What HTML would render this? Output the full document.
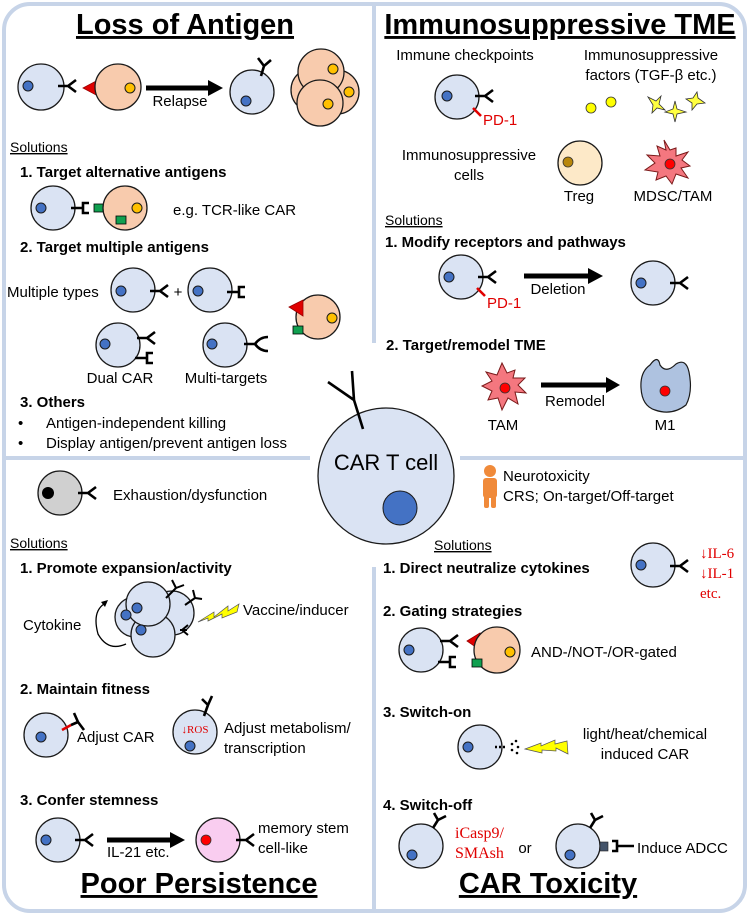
<!DOCTYPE html>
<html><head><meta charset="utf-8"><style>
html,body{margin:0;padding:0;background:#fff}
svg{display:block}
text{font-family:"Liberation Sans",sans-serif;fill:#000}
.b{font-weight:bold;font-size:15px}
.t{font-size:15px}
.h{font-weight:bold;font-size:29px;text-decoration:underline}
.r{fill:#e00000;font-family:"Liberation Serif",serif}
.c{fill:#dae3f3;stroke:#1a1a1a;stroke-width:1.3}
.n{fill:#4472c4;stroke:#1a1a1a;stroke-width:1}
.tu{fill:#f8cbad;stroke:#1a1a1a;stroke-width:1.3}
.y{fill:#ffc000;stroke:#1a1a1a;stroke-width:1}
.k{stroke:#000;stroke-width:2.6;fill:none}
</style></head><body>
<svg width="749" height="915" viewBox="0 0 749 915" xmlns="http://www.w3.org/2000/svg">
<defs>
<g id="F"><path class="k" d="M0,0 L11,0 M10,0 L18,-6 M10,0 L18,6"/></g>
<g id="B"><path class="k" d="M0,0 L11,0 M18,-5 L12,-5 L12,5 L18,5"/></g>
<g id="W"><path class="k" d="M0,0 L12,0 M11,0 Q16,-7 24,-7 M11,0 Q16,7 24,7"/></g>
</defs>
<!-- frame -->
<rect x="4" y="4" width="741" height="907" rx="26" fill="none" stroke="#c7d4e8" stroke-width="4"/>
<line x1="374" y1="4" x2="374" y2="343" stroke="#c7d4e8" stroke-width="4"/>
<line x1="374" y1="567" x2="374" y2="911" stroke="#c7d4e8" stroke-width="4"/>
<line x1="4" y1="458" x2="310" y2="458" stroke="#c7d4e8" stroke-width="4"/>
<line x1="460" y1="458" x2="745" y2="458" stroke="#c7d4e8" stroke-width="4"/>

<!-- ===== Loss of Antigen ===== -->
<text x="185" y="34" text-anchor="middle" class="h">Loss of Antigen</text>
<circle cx="41" cy="87" r="23" class="c"/><circle cx="28" cy="86" r="5" class="n"/>
<use href="#F" x="58" y="86"/>
<polygon points="83,88 98,80 98,96" fill="#e00000" stroke="#900" stroke-width="0.8"/>
<circle cx="118" cy="87" r="23" class="tu"/><circle cx="130" cy="88" r="5" class="y"/>
<line x1="146" y1="88" x2="210" y2="88" stroke="#000" stroke-width="5"/>
<polygon points="208,80 223,88 208,96" fill="#000"/>
<text x="180" y="106" text-anchor="middle" class="t">Relapse</text>
<circle cx="252" cy="92" r="22" class="c"/><circle cx="246" cy="101" r="5" class="n"/>
<path class="k" d="M261,76 L264,66 M264,66 L258,58 M264,66 L271,60"/>
<circle cx="313" cy="90" r="22" class="tu"/><circle cx="337" cy="92" r="22" class="tu"/>
<circle cx="321" cy="72" r="23" class="tu"/><circle cx="320" cy="103" r="23" class="tu"/>
<circle cx="333" cy="69" r="5" class="y"/><circle cx="349" cy="92" r="5" class="y"/><circle cx="328" cy="104" r="5" class="y"/>

<text x="10" y="152" style="font-size:14px;text-decoration:underline">Solutions</text>
<text x="20" y="177" class="b">1. Target alternative antigens</text>
<circle cx="53" cy="208" r="22" class="c"/><circle cx="41" cy="208" r="5" class="n"/>
<use href="#B" x="71" y="208"/>
<rect x="94" y="204" width="10" height="8" fill="#10a050" stroke="#000" stroke-width="0.8"/>
<circle cx="125" cy="208" r="22" class="tu"/><circle cx="137" cy="208" r="5" class="y"/>
<rect x="116" y="216" width="10" height="8" fill="#10a050" stroke="#000" stroke-width="0.8"/>
<text x="173" y="215" class="t">e.g. TCR-like CAR</text>
<text x="20" y="252" class="b">2. Target multiple antigens</text>
<text x="7" y="297" class="t">Multiple types</text>
<circle cx="133" cy="290" r="22" class="c"/><circle cx="121" cy="291" r="5" class="n"/>
<use href="#F" x="150" y="291"/>
<text x="178" y="297" text-anchor="middle" class="t">+</text>
<circle cx="210" cy="290" r="22" class="c"/><circle cx="198" cy="291" r="5" class="n"/>
<use href="#B" x="227" y="292"/>
<circle cx="318" cy="317" r="22" class="tu"/><circle cx="332" cy="318" r="5" class="y"/>
<polygon points="289,307 303,300 303,316" fill="#e00000" stroke="#900" stroke-width="0.8"/>
<rect x="293" y="326" width="10" height="8" fill="#10a050" stroke="#000" stroke-width="0.8"/>
<circle cx="118" cy="345" r="22" class="c"/><circle cx="105" cy="344" r="5" class="n"/>
<use href="#F" x="137" y="338"/><use href="#B" x="135" y="358"/>
<text x="120" y="383" text-anchor="middle" class="t">Dual CAR</text>
<circle cx="225" cy="345" r="22" class="c"/><circle cx="212" cy="344" r="5" class="n"/>
<use href="#W" x="244" y="344"/>
<text x="226" y="383" text-anchor="middle" class="t">Multi-targets</text>
<text x="20" y="407" class="b">3. Others</text>
<text x="18" y="428" class="t">•</text><text x="46" y="428" class="t">Antigen-independent killing</text>
<text x="18" y="448" class="t">•</text><text x="46" y="448" class="t">Display antigen/prevent antigen loss</text>

<!-- ===== Immunosuppressive TME ===== -->
<text x="560" y="34" text-anchor="middle" class="h">Immunosuppressive TME</text>
<text x="465" y="60" text-anchor="middle" class="t">Immune checkpoints</text>
<text x="651" y="60" text-anchor="middle" class="t">Immunosuppressive</text>
<text x="651" y="80" text-anchor="middle" class="t">factors (TGF-β etc.)</text>
<circle cx="457" cy="97" r="22" class="c"/><circle cx="447" cy="96" r="5" class="n"/>
<use href="#F" x="475" y="96"/>
<line x1="473" y1="108" x2="481" y2="116" stroke="#e00000" stroke-width="2.6"/>
<text x="483" y="125" class="t" style="fill:#e00000">PD-1</text>
<circle cx="591" cy="108" r="5" fill="#ffff00" stroke="#333" stroke-width="0.8"/>
<circle cx="611" cy="102" r="5" fill="#ffff00" stroke="#333" stroke-width="0.8"/>
<g fill="#ffff40" stroke="#333" stroke-width="0.8">
<polygon points="648,97 656,101 661,96 659,104 665,110 657,108 652,113 653,105"/>
<polygon points="675,101 677,109 686,112 677,114 675,122 673,114 665,112 673,109"/>
<polygon points="697,92 698,98 705,103 697,104 692,110 692,103 686,99 693,98"/>
</g>
<text x="469" y="160" text-anchor="middle" class="t">Immunosuppressive</text>
<text x="469" y="180" text-anchor="middle" class="t">cells</text>
<circle cx="580" cy="163" r="22" fill="#fde9c8" stroke="#1a1a1a" stroke-width="1.3"/>
<circle cx="568" cy="162" r="5" fill="#b8860b" stroke="#333" stroke-width="0.8"/>
<text x="579" y="201" text-anchor="middle" class="t">Treg</text>
<path d="M664,140 L670,150 L676,148 L676,156 L688,152 L682,160 L690,166 L681,168 L688,178 L676,174 L672,184 L666,176 L656,180 L658,172 L645,170 L655,163 L647,155 L660,156 L657,146 L666,150 Z" fill="#f4777f" stroke="#7a1a1a" stroke-width="1"/>
<circle cx="670" cy="164" r="5" fill="#ff0000" stroke="#333" stroke-width="0.8"/>
<text x="673" y="201" text-anchor="middle" class="t">MDSC/TAM</text>
<text x="385" y="225" style="font-size:14px;text-decoration:underline">Solutions</text>
<text x="385" y="247" class="b">1. Modify receptors and pathways</text>
<circle cx="461" cy="277" r="22" class="c"/><circle cx="449" cy="277" r="5" class="n"/>
<use href="#F" x="478" y="277"/>
<line x1="477" y1="288" x2="485" y2="296" stroke="#e00000" stroke-width="2.6"/>
<text x="487" y="308" class="t" style="fill:#e00000">PD-1</text>
<line x1="524" y1="276" x2="590" y2="276" stroke="#000" stroke-width="5"/>
<polygon points="588,268 603,276 588,284" fill="#000"/>
<text x="558" y="294" text-anchor="middle" class="t">Deletion</text>
<circle cx="653" cy="283" r="22" class="c"/><circle cx="641" cy="283" r="5" class="n"/>
<use href="#F" x="670" y="283"/>
<text x="386" y="350" class="b">2. Target/remodel TME</text>
<path d="M502,363 L507,373 L515,370 L513,378 L525,378 L518,385 L526,393 L515,392 L518,404 L508,398 L502,410 L498,398 L488,400 L492,391 L482,386 L492,381 L486,372 L497,375 Z" fill="#f4777f" stroke="#7a1a1a" stroke-width="1"/>
<circle cx="505" cy="388" r="5" fill="#ff0000" stroke="#333" stroke-width="0.8"/>
<text x="503" y="430" text-anchor="middle" class="t">TAM</text>
<line x1="541" y1="385" x2="608" y2="385" stroke="#000" stroke-width="5"/>
<polygon points="606,377 620,385 606,393" fill="#000"/>
<text x="575" y="406" text-anchor="middle" class="t">Remodel</text>
<path d="M650,365 Q658,354 660,365 Q666,374 676,364 Q686,358 689,372 Q693,392 686,405 Q672,416 655,410 Q642,406 641,388 Q640,372 650,365 Z" fill="#aec2e0" stroke="#1a1a1a" stroke-width="1.2"/>
<circle cx="665" cy="391" r="5" fill="#ff0000" stroke="#333" stroke-width="0.8"/>
<text x="665" y="430" text-anchor="middle" class="t">M1</text>

<!-- ===== center ===== -->
<circle cx="386" cy="476" r="68" class="c"/>
<circle cx="400" cy="508" r="17" class="n"/>
<path class="k" d="M363,429 L354,400 M354,400 L328,382 M354,400 L352,371"/>
<text x="386" y="470" text-anchor="middle" style="font-size:22px">CAR T cell</text>

<!-- ===== Poor Persistence ===== -->
<circle cx="60" cy="493" r="22" fill="#d0d0d0" stroke="#1a1a1a" stroke-width="1.3"/>
<circle cx="48" cy="493" r="6" fill="#000"/>
<use href="#F" x="78" y="493"/>
<text x="113" y="500" class="t">Exhaustion/dysfunction</text>
<text x="10" y="548" style="font-size:14px;text-decoration:underline">Solutions</text>
<text x="20" y="573" class="b">1. Promote expansion/activity</text>
<circle cx="135" cy="617" r="20" class="c"/>
<circle cx="172" cy="613" r="22" class="c"/>
<circle cx="153" cy="635" r="22" class="c"/>
<circle cx="148" cy="604" r="22" class="c"/>
<circle cx="126" cy="615" r="5" class="n"/><circle cx="137" cy="608" r="5" class="n"/><circle cx="141" cy="630" r="5" class="n"/>
<path class="k" style="stroke-width:2" d="M166,598 L176,588 M176,588 L172,580 M176,588 L184,585"/>
<path class="k" style="stroke-width:2" d="M185,605 L195,598 M195,598 L193,590 M195,598 L202,599"/>
<path class="k" style="stroke-width:2" d="M187,630 L180,630 M182,630 L188,625 M182,630 L188,635"/>
<path d="M126,644 Q108,652 98,634 Q92,612 104,604" fill="none" stroke="#000" stroke-width="1.3"/>
<polygon points="101,602 108,600 105,607" fill="#000"/>
<text x="23" y="630" class="t">Cytokine</text>
<polygon points="198,622 214,612 214,617 228,606 228,611 239,604 237,612 222,618 222,614 208,621 208,618" fill="#ffff00" stroke="#555" stroke-width="0.7"/>
<text x="243" y="615" class="t">Vaccine/inducer</text>
<text x="20" y="694" class="b">2. Maintain fitness</text>
<circle cx="46" cy="735" r="22" class="c"/><circle cx="41" cy="737" r="5" class="n"/>
<line x1="62" y1="730" x2="71" y2="725" stroke="#e00000" stroke-width="2.6"/>
<path class="k" d="M71,725 L78,722 M78,722 L74,713 M78,722 L84,730"/>
<text x="77" y="742" class="t">Adjust CAR</text>
<circle cx="195" cy="732" r="22" class="c"/><circle cx="190" cy="746" r="5" class="n"/>
<text x="195" y="733" text-anchor="middle" class="r" style="font-size:11px">↓ROS</text>
<path class="k" d="M204,716 L208,705 M208,705 L202,699 M208,705 L212,696"/>
<text x="224" y="733" class="t">Adjust metabolism/</text>
<text x="224" y="753" class="t">transcription</text>
<text x="20" y="805" class="b">3. Confer stemness</text>
<circle cx="58" cy="840" r="22" class="c"/><circle cx="46" cy="840" r="5" class="n"/>
<use href="#F" x="75" y="840"/>
<line x1="107" y1="840" x2="172" y2="840" stroke="#000" stroke-width="5"/>
<polygon points="170,832 185,840 170,848" fill="#000"/>
<text x="107" y="857" class="t">IL-21 etc.</text>
<circle cx="218" cy="840" r="22" fill="#f9cdf0" stroke="#1a1a1a" stroke-width="1.3"/>
<circle cx="206" cy="840" r="5" fill="#ff0000" stroke="#333" stroke-width="0.8"/>
<use href="#F" x="236" y="840"/>
<text x="258" y="833" class="t">memory stem</text>
<text x="258" y="853" class="t">cell-like</text>
<text x="199" y="893" text-anchor="middle" class="h">Poor Persistence</text>

<!-- ===== CAR Toxicity ===== -->
<g fill="#f08a3a">
<circle cx="490" cy="471" r="6"/>
<rect x="483" y="478" width="14" height="20" rx="3"/>
<rect x="484" y="494" width="5" height="14" rx="2"/><rect x="491" y="494" width="5" height="14" rx="2"/>
</g>
<text x="503" y="481" class="t">Neurotoxicity</text>
<text x="503" y="501" class="t">CRS; On-target/Off-target</text>
<text x="434" y="550" style="font-size:14px;text-decoration:underline">Solutions</text>
<text x="383" y="573" class="b">1. Direct neutralize cytokines</text>
<circle cx="653" cy="565" r="22" class="c"/><circle cx="641" cy="565" r="5" class="n"/>
<use href="#F" x="670" y="566"/>
<text x="700" y="558" class="r" style="font-size:15px">↓IL-6</text>
<text x="700" y="578" class="r" style="font-size:15px">↓IL-1</text>
<text x="700" y="598" class="r" style="font-size:15px">etc.</text>
<text x="383" y="616" class="b">2. Gating strategies</text>
<circle cx="421" cy="650" r="22" class="c"/><circle cx="409" cy="650" r="5" class="n"/>
<use href="#F" x="440" y="641"/><use href="#B" x="438" y="662"/>
<polygon points="467,641 480,633 480,650" fill="#e00000" stroke="#900" stroke-width="0.8"/>
<circle cx="497" cy="650" r="23" class="tu"/><circle cx="510" cy="652" r="5" class="y"/>
<rect x="472" y="659" width="10" height="8" fill="#10a050" stroke="#000" stroke-width="0.8"/>
<text x="531" y="657" class="t">AND-/NOT-/OR-gated</text>
<text x="383" y="717" class="b">3. Switch-on</text>
<circle cx="480" cy="747" r="22" class="c"/><circle cx="468" cy="747" r="5" class="n"/>
<path d="M495,747 L507,747" stroke="#000" stroke-width="2.4" stroke-dasharray="2,2"/>
<circle cx="512" cy="744" r="1.3"/><circle cx="512" cy="750" r="1.3"/><circle cx="516" cy="741" r="1.3"/><circle cx="517" cy="753" r="1.3"/><circle cx="518" cy="747" r="1.3"/>
<polygon points="525,749 541,743 541,746 555,740 555,744 567,741 568,754 556,748 556,751 542,750 542,753" fill="#ffff00" stroke="#555" stroke-width="0.7"/>
<text x="645" y="739" text-anchor="middle" class="t">light/heat/chemical</text>
<text x="645" y="759" text-anchor="middle" class="t">induced CAR</text>
<text x="383" y="810" class="b">4. Switch-off</text>
<circle cx="421" cy="846" r="22" class="c"/><circle cx="412" cy="855" r="5" class="n"/>
<path class="k" d="M433,828 L438,820 M438,820 L434,813 M438,820 L446,816"/>
<text x="455" y="838" class="r" style="font-size:16px">iCasp9/</text>
<text x="455" y="858" class="r" style="font-size:16px">SMAsh</text>
<text x="525" y="853" text-anchor="middle" class="t">or</text>
<circle cx="578" cy="846" r="22" class="c"/><circle cx="570" cy="855" r="5" class="n"/>
<path class="k" d="M590,828 L595,820 M595,820 L591,813 M595,820 L603,816"/>
<rect x="600" y="842" width="8" height="9" fill="#44546a" stroke="#222" stroke-width="0.6"/>
<path class="k" d="M612,841 L617,841 L617,851 L612,851 M617,846 L634,846"/>
<text x="637" y="853" class="t">Induce ADCC</text>
<text x="548" y="893" text-anchor="middle" class="h">CAR Toxicity</text>
</svg>
</body></html>
